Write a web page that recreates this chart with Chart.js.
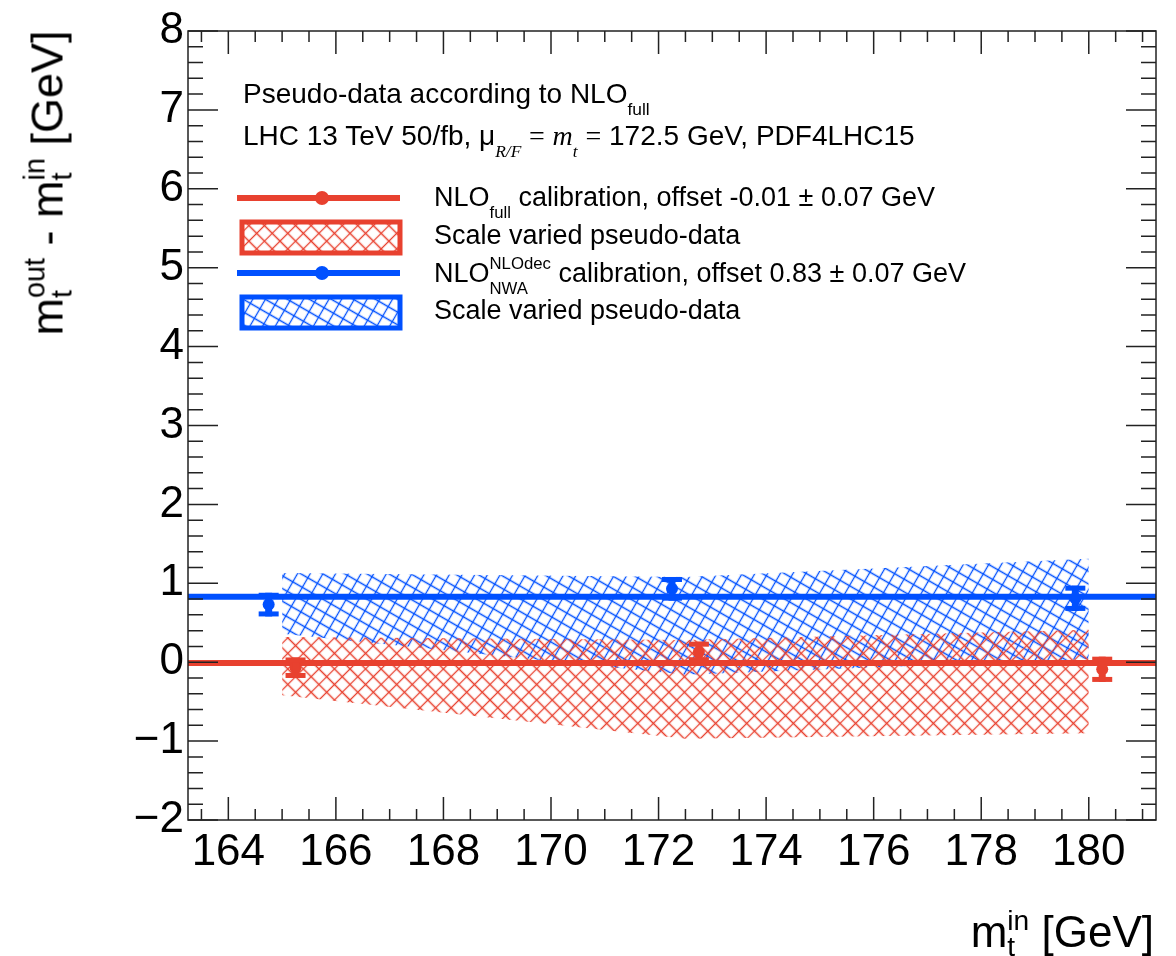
<!DOCTYPE html>
<html><head><meta charset="utf-8">
<script src="https://cdn.jsdelivr.net/npm/chart.js@4.4.1/dist/chart.umd.min.js"></script>
<style>
html,body{margin:0;padding:0;background:#fff;}
#wrap{position:relative;width:1176px;height:956px;overflow:hidden;font-family:"Liberation Sans",Arial,Helvetica,sans-serif;color:#000;}
canvas{position:absolute;left:0;top:0;}
.t{position:absolute;white-space:nowrap;line-height:1;}
.ss{position:relative;display:inline-block;font-size:0.62em;line-height:1;}
.ss .ph{visibility:hidden;}
.ss .up{position:absolute;left:0;top:-0.8em;}
.ss .dn{position:absolute;left:0;top:0.72em;}
.ttl .ss{font-size:0.64em;}
.ttl .ss .up{top:-0.62em;}
.ttl .ss .dn{top:0.32em;}
.tm{font-family:"Liberation Serif","Times New Roman",serif;font-style:italic;}
.tr{font-family:"Liberation Serif","Times New Roman",serif;}
</style></head>
<body><div id="wrap"><canvas id="c" width="1176" height="956"></canvas>
<div class="t" style="left:243px;top:80px;font-size:28px;">Pseudo-data according to NLO<span class="ss"><span class="ph">full</span><span class="dn">full</span></span></div>
<div class="t" style="left:243px;top:122px;font-size:28px;">LHC 13 TeV 50/fb, μ<span class="ss"><span class="ph tm">R/F</span><span class="dn tm">R/F</span></span> <span class="tr">=</span> <span class="tm">m</span><span class="ss"><span class="ph tm">t</span><span class="dn tm">t</span></span> <span class="tr">=</span> 172.5 GeV, PDF4LHC15</div>
<div class="t" style="left:434px;top:184px;font-size:27px;">NLO<span class="ss"><span class="ph">full</span><span class="dn">full</span></span> calibration, offset -0.01 ± 0.07 GeV</div>
<div class="t" style="left:434px;top:222px;font-size:27px;">Scale varied pseudo-data</div>
<div class="t" style="left:434px;top:260px;font-size:27px;">NLO<span class="ss"><span class="ph">NLOdec</span><span class="up">NLOdec</span><span class="dn">NWA</span></span> calibration, offset 0.83 ± 0.07 GeV</div>
<div class="t" style="left:434px;top:297px;font-size:27px;">Scale varied pseudo-data</div>
<div class="t ttl" style="left:47px;top:183px;font-size:45px;transform:translate(-50%,-50%) rotate(-90deg);">m<span class="ss"><span class="ph">out</span><span class="up">out</span><span class="dn">t</span></span> - m<span class="ss"><span class="ph">in</span><span class="up">in</span><span class="dn">t</span></span> [GeV]</div>
<div class="t ttl" style="right:22px;top:910px;font-size:44px;">m<span class="ss"><span class="ph">in</span><span class="up">in</span><span class="dn">t</span></span> [GeV]</div>
</div>
<script>
// ---- data ----
const xMin = 163.25, xMax = 181.25;
const yMin = -2, yMax = 8;
const xTickVals = [164, 166, 168, 170, 172, 174, 176, 178, 180];
const yTickVals = [-2, -1, 0, 1, 2, 3, 4, 5, 6, 7, 8];
const bandMass = [165, 172.5, 180];
const redBandUp = [0.32, 0.28, 0.41];
const redBandLo = [-0.42, -0.97, -0.90];
const blueBandUp = [1.13, 1.08, 1.31];
const blueBandLo = [0.36, -0.16, 0.04];
const redPtsX = [165.25, 172.75, 180.25];
const redPtsY = [-0.07, 0.13, -0.09];
const redPtsErr = [0.13, 0.13, 0.16];
const bluePtsX = [164.75, 172.25, 179.75];
const bluePtsY = [0.73, 0.93, 0.81];
const bluePtsErr = [0.15, 0.15, 0.16];
const redOffset = -0.01;
const blueOffset = 0.83;

const RED = '#e8412f', BLUE = '#0050ff';
const FONT = '"Liberation Sans", Arial, Helvetica, sans-serif';

const canvas = document.getElementById('c');
const ctx = canvas.getContext('2d');

function hatch(color, angle, step, lw) {
  const t = document.createElement('canvas');
  t.width = step; t.height = step;
  const g = t.getContext('2d');
  g.strokeStyle = color; g.lineWidth = lw;
  g.beginPath();
  g.moveTo(step / 2, 0); g.lineTo(step / 2, step);
  g.moveTo(0, step / 2); g.lineTo(step, step / 2);
  g.stroke();
  const p = ctx.createPattern(t, 'repeat');
  p.setTransform(new DOMMatrix().rotateSelf(angle));
  return p;
}
const redPat = hatch(RED, 45, 11, 1.3);
const bluePat = hatch(BLUE, 30, 11, 1.3);

const pts = (xs, ys) => xs.map((x, i) => ({x: x, y: ys[i]}));

const framePlugin = {
  id: 'frame',
  afterDatasetsDraw(chart) {
    const {ctx, chartArea: a, scales: {x, y}} = chart;
    ctx.save();
    ctx.strokeStyle = '#222';
    ctx.lineWidth = 1.5;
    ctx.strokeRect(a.left, a.top, a.right - a.left, a.bottom - a.top);
    ctx.beginPath();
    for (let k = Math.ceil(yMin * 5); k <= Math.floor(yMax * 5); k++) {
      const v = k / 5, py = y.getPixelForValue(v);
      const len = (k % 5 === 0) ? 30 : 15;
      ctx.moveTo(a.left, py); ctx.lineTo(a.left + len, py);
      ctx.moveTo(a.right, py); ctx.lineTo(a.right - len, py);
    }
    for (let k = Math.ceil(xMin * 2); k <= Math.floor(xMax * 2); k++) {
      const v = k / 2, px = x.getPixelForValue(v);
      const len = (k % 4 === 0) ? 23 : 11;
      ctx.moveTo(px, a.bottom); ctx.lineTo(px, a.bottom - len);
      ctx.moveTo(px, a.top); ctx.lineTo(px, a.top + len);
    }
    ctx.stroke();
    ctx.restore();
  }
};

const errPlugin = {
  id: 'errbars',
  afterDatasetsDraw(chart) {
    const {ctx, scales: {x, y}} = chart;
    const draw = (xs, ys, es, col) => {
      ctx.fillStyle = col;
      xs.forEach((xv, i) => {
        const px = x.getPixelForValue(xv);
        const pt = y.getPixelForValue(ys[i] + es[i]);
        const pb = y.getPixelForValue(ys[i] - es[i]);
        ctx.fillRect(px - 3.5, pt, 7, pb - pt);
        ctx.fillRect(px - 10, pt, 20, 5);
        ctx.fillRect(px - 10, pb - 5, 20, 5);
      });
    };
    ctx.save();
    draw(bluePtsX, bluePtsY, bluePtsErr, BLUE);
    draw(redPtsX, redPtsY, redPtsErr, RED);
    ctx.restore();
  }
};

const legendPlugin = {
  id: 'legendSym',
  afterDraw(chart) {
    const c = chart.ctx;
    c.save();
    const lineRow = (yy, col) => {
      c.strokeStyle = col; c.lineWidth = 6;
      c.beginPath(); c.moveTo(237, yy); c.lineTo(400, yy); c.stroke();
      c.fillStyle = col; c.beginPath(); c.arc(322, yy, 7, 0, Math.PI * 2); c.fill();
    };
    const boxRow = (yy, col, pat) => {
      c.fillStyle = pat; c.fillRect(242, yy, 158, 31);
      c.strokeStyle = col; c.lineWidth = 5; c.strokeRect(242, yy, 158, 31);
    };
    lineRow(198, RED);
    boxRow(222, RED, redPat);
    lineRow(273, BLUE);
    boxRow(297, BLUE, bluePat);
    c.restore();
  }
};

new Chart(ctx, {
  type: 'scatter',
  data: {
    datasets: [
      {type: 'line', data: pts(bandMass, blueBandLo), borderWidth: 0, pointRadius: 0, fill: false, order: 20},
      {type: 'line', data: pts(bandMass, blueBandUp), borderWidth: 0, pointRadius: 0, fill: '-1', backgroundColor: bluePat, order: 19},
      {type: 'line', data: pts(bandMass, redBandLo), borderWidth: 0, pointRadius: 0, fill: false, order: 18},
      {type: 'line', data: pts(bandMass, redBandUp), borderWidth: 0, pointRadius: 0, fill: '-1', backgroundColor: redPat, order: 17},
      {type: 'line', data: [{x: xMin, y: blueOffset}, {x: xMax, y: blueOffset}], borderColor: BLUE, borderWidth: 6, pointRadius: 0, fill: false, order: 10},
      {type: 'line', data: [{x: xMin, y: redOffset}, {x: xMax, y: redOffset}], borderColor: RED, borderWidth: 6, pointRadius: 0, fill: false, order: 9},
      {data: pts(bluePtsX, bluePtsY), backgroundColor: BLUE, borderWidth: 0, pointRadius: 6, order: 2},
      {data: pts(redPtsX, redPtsY), backgroundColor: RED, borderWidth: 0, pointRadius: 6, order: 1}
    ]
  },
  options: {
    responsive: false,
    animation: false,
    devicePixelRatio: 1,
    layout: {padding: {top: 31, right: 20, left: 0, bottom: 0}},
    plugins: {legend: {display: false}, tooltip: {enabled: false}},
    scales: {
      x: {
        type: 'linear', min: xMin, max: xMax,
        grid: {display: false, drawTicks: false},
        border: {display: false},
        ticks: {autoSkip: false, maxRotation: 0, minRotation: 0, padding: 6, color: '#000', font: {family: FONT, size: 44}},
        afterBuildTicks(s) { s.ticks = xTickVals.map(v => ({value: v})); },
        afterFit(s) { s.height = 136; }
      },
      y: {
        type: 'linear', min: yMin, max: yMax,
        grid: {display: false, drawTicks: false},
        border: {display: false},
        ticks: {padding: 4, color: '#000', font: {family: FONT, size: 44},
          callback: v => (v < 0 ? '\u2212' + Math.abs(v) : String(v))},
        afterBuildTicks(s) { s.ticks = yTickVals.map(v => ({value: v})); },
        afterFit(s) { s.width = 188; }
      }
    }
  },
  plugins: [framePlugin, errPlugin, legendPlugin]
});
</script>
</body></html>
